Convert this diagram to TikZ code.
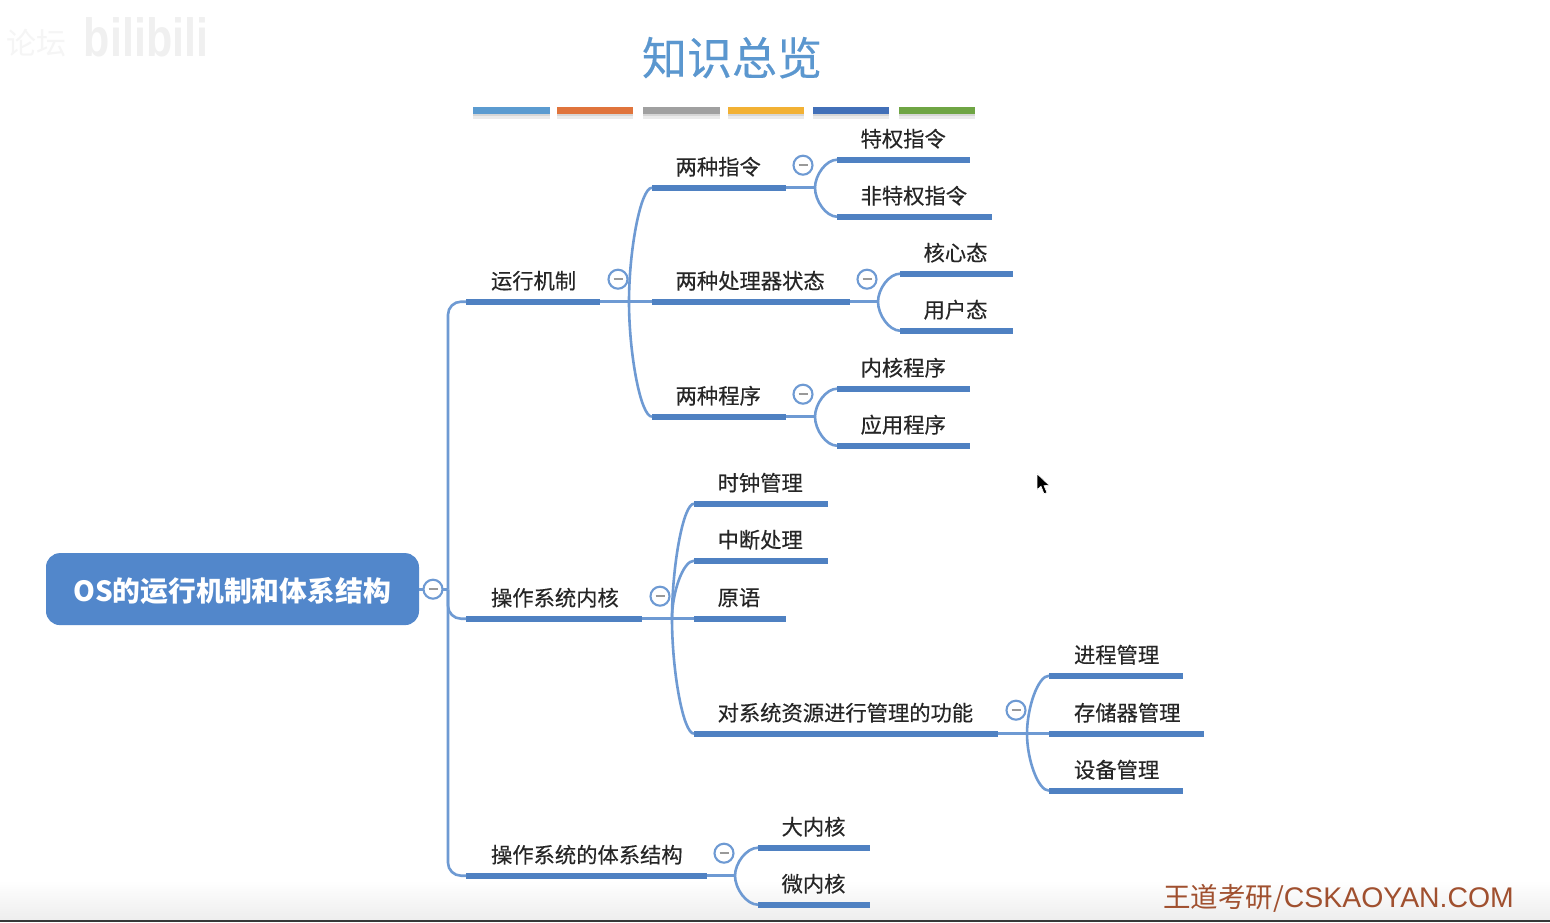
\documentclass[tikz,border=0pt]{standalone}
\usepackage{fontspec}
\setmainfont{Noto Sans CJK SC}
\newfontfamily\medf[FakeBold=0.35]{Noto Sans CJK SC}
\newfontfamily\latinf{Liberation Sans}
\usetikzlibrary{calc}
\definecolor{barblue}{HTML}{4F81C2}
\definecolor{linkblue}{HTML}{6E9AD3}
\definecolor{rootblue}{HTML}{5287CB}
\definecolor{titleblue}{HTML}{5B97CF}
\definecolor{footc}{HTML}{A0502F}
\definecolor{c1}{HTML}{5B9BD0}
\definecolor{c2}{HTML}{E0743C}
\definecolor{c3}{HTML}{A0A0A0}
\definecolor{c4}{HTML}{F2B134}
\definecolor{c5}{HTML}{4270B8}
\definecolor{c6}{HTML}{6FA544}
\tikzset{
  x=1pt,y=-1pt,
  barline/.style={draw=barblue,line width=5.7pt},
  link/.style={draw=linkblue,line width=2.6pt},
  lbl/.style={anchor=west,inner sep=0pt,text=black!85,font=\medf\fontsize{21.3}{22}\selectfont},
  colbtn/.style={circle,draw=linkblue,line width=2.1pt,fill=white,minimum size=19pt,inner sep=0pt},
  colorbar/.style={line width=7pt},
}
% [text offset], name, x1, x2, y, text
\newcommand{\branch}[6][23.4]{%
  \coordinate (#2-l) at (#3,#5);
  \coordinate (#2-r) at (#4,#5);
  \draw[barline] (#2-l) -- (#2-r);
  \node[lbl] (#2-t) at ($(#2-l)+(#1,-21)$) {#6};
}
% hub, child
\newcommand{\fan}[2]{%
  \draw[link] (#1) .. controls ($(#1)!0.45!(#1 |- #2-l)$) and ($(#1 |- #2-l)!0.5!(#2-l)$) .. (#2-l);
}
\newcommand{\btn}[3]{%
  \node[colbtn] (#1) at (#2,#3) {};
  \draw[gray!80,line width=1.6pt] ($(#1)+(-4.5,0)$) -- ($(#1)+(4.5,0)$);
}
\begin{document}
\begin{tikzpicture}
\useasboundingbox (0,-0.7) rectangle (1550,921.3);
\fill[white] (0,-0.7) rectangle (1550,921.3);
% bottom edge
\shade[top color=white,bottom color=black!7] (0,880) rectangle (1550,919.5);
\fill[black!78] (0,919.5) rectangle (1550,921.3);
% watermark
\node[inner sep=0pt,yscale=1.25,text=black!6,font=\latinf\bfseries\fontsize{43}{43}\selectfont] (wm) at (146,37) {bilibili};
\node[inner sep=0pt,text=black!4,font=\fontsize{30}{30}\selectfont] (wm2) at (36,42) {论坛};
% title
\node[inner sep=0pt,text=titleblue,font=\medf\fontsize{45}{45}\selectfont] (title) at (732,57) {知识总览};
\foreach \a/\b/\c in {473/550/c1,557/633/c2,643/720/c3,728/804/c4,813/889/c5,899/975/c6}{
  \draw[colorbar,black!8] (\a,114.5) -- (\b,114.5);
  \draw[colorbar,black!16,line width=6pt] (\a,112.5) -- (\b,112.5);
  \draw[colorbar,\c] (\a,109.5) -- (\b,109.5);
}
% hubs
\coordinate (h0) at (448,589);
\coordinate (h1) at (629,301);
\coordinate (h11) at (815,187);
\coordinate (h12) at (878,301);
\coordinate (h13) at (815,416);
\coordinate (h2) at (672,618);
\coordinate (h24) at (1027,733);
\coordinate (h3) at (735,875);
% root
\node[fill=rootblue,rounded corners=14pt,minimum width=373pt,minimum height=72pt,inner sep=0pt] (root) at (232.5,588.4) {};
\node[inner sep=0pt,text=white,font=\bfseries\fontsize{27.8}{28}\selectfont] (rootlbl) at (232,590.4) {OS的运行机制和体系结构};
% branches
\branch[24.8]{a}{466}{600}{301}{运行机制}
\branch[24.8]{b}{466}{642}{618}{操作系统内核}
\branch[24.8]{c}{466}{707}{875}{操作系统的体系结构}
\branch{a1}{652}{786}{187}{两种指令}
\branch{a2}{652}{850}{301}{两种处理器状态}
\branch{a3}{652}{786}{416}{两种程序}
\branch{a11}{837}{970}{159}{特权指令}
\branch{a12}{837}{992}{216}{非特权指令}
\branch{a21}{900}{1013}{273}{核心态}
\branch{a22}{900}{1013}{330}{用户态}
\branch{a31}{837}{970}{388}{内核程序}
\branch{a32}{837}{970}{445}{应用程序}
\branch{b1}{694}{828}{503}{时钟管理}
\branch{b2}{694}{828}{560}{中断处理}
\branch{b3}{694}{786}{618}{原语}
\branch{b4}{694}{998}{733}{对系统资源进行管理的功能}
\branch[24.8]{b41}{1049}{1183}{675}{进程管理}
\branch[24.8]{b42}{1049}{1204}{733}{存储器管理}
\branch[24.8]{b43}{1049}{1183}{790}{设备管理}
\branch{c1}{758}{870}{847}{大内核}
\branch{c2}{758}{870}{904}{微内核}
% connectors: root trunk
\draw[link] (root.east |- h0) -- (h0);
\draw[link,rounded corners=13pt] (h0) |- (a-l);
\draw[link,rounded corners=13pt] (h0) |- (c-l);
\draw[link,rounded corners=13pt] (h0) |- (b-l);
% stems + fans
\draw[link] (a-r) -- (h1);
\fan{h1}{a1}\fan{h1}{a2}\fan{h1}{a3}
\draw[link] (a1-r) -- (h11);
\fan{h11}{a11}\fan{h11}{a12}
\draw[link] (a2-r) -- (h12);
\fan{h12}{a21}\fan{h12}{a22}
\draw[link] (a3-r) -- (h13);
\fan{h13}{a31}\fan{h13}{a32}
\draw[link] (b-r) -- (h2);
\fan{h2}{b1}\fan{h2}{b2}\fan{h2}{b3}\fan{h2}{b4}
\draw[link] (b4-r) -- (h24);
\fan{h24}{b41}\fan{h24}{b42}\fan{h24}{b43}
\draw[link] (c-r) -- (h3);
\fan{h3}{c1}\fan{h3}{c2}
% collapse buttons
\btn{k0}{433}{588.5}
\btn{k1}{618}{278.5}
\btn{k2}{660}{595.5}
\btn{k3}{724}{852.5}
\btn{k11}{803}{164.5}
\btn{k12}{867}{278.5}
\btn{k13}{803}{393.5}
\btn{k24}{1016}{709.5}
% cursor
\fill[black,draw=white,line width=0.6pt] (1037,473) -- (1037,489) -- (1041,485.5) -- (1044,493) -- (1047,492) -- (1044,485) -- (1049,484.5) -- cycle;
% footer
\node[anchor=west,inner sep=0pt,text=footc,font=\fontsize{27.5}{28}\selectfont] (foot) at (1163,898) {王道考研/{\latinf\fontsize{28.4}{29}\selectfont CSKAOYAN.COM}};
\end{tikzpicture}
\end{document}
